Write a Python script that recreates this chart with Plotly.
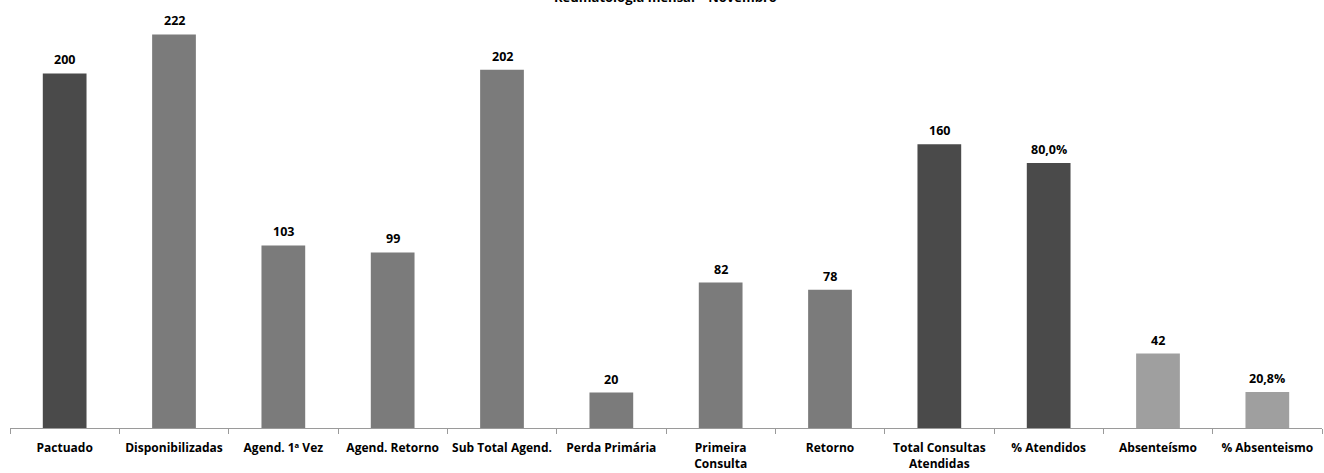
import plotly.graph_objects as go

categories = ["Pactuado", "Disponibilizadas", "Agend. 1ª Vez", "Agend. Retorno",
              "Sub Total Agend.", "Perda Primária", "Primeira<br>Consulta", "Retorno",
              "Total Consultas<br>Atendidas", "% Atendidos", "Absenteísmo", "% Absenteismo"]

count_cats = ["Pactuado", "Disponibilizadas", "Agend. 1ª Vez", "Agend. Retorno",
              "Sub Total Agend.", "Perda Primária", "Primeira<br>Consulta", "Retorno",
              "Total Consultas<br>Atendidas", "Absenteísmo"]
count_values = [200, 222, 103, 99, 202, 20, 82, 78, 160, 42]
count_colors = ["#4a4a4a", "#7b7b7b", "#7b7b7b", "#7b7b7b", "#7b7b7b", "#7b7b7b",
                "#7b7b7b", "#7b7b7b", "#4a4a4a", "#9f9f9f"]

pct_cats = ["% Atendidos", "% Absenteismo"]
pct_values = [80.0, 20.8]
pct_labels = ["80,0%", "20,8%"]
pct_colors = ["#4a4a4a", "#9f9f9f"]

title = "Reumatologia mensal – Novembro"

FONT = "Open Sans, DejaVu Sans, sans-serif"

fig = go.Figure()
fig.add_trace(go.Bar(x=count_cats, y=count_values, marker_color=count_colors,
                     marker_line_width=0, width=0.4, yaxis="y", showlegend=False,
                     hoverinfo="skip"))
fig.add_trace(go.Bar(x=pct_cats, y=pct_values, marker_color=pct_colors,
                     marker_line_width=0, width=0.4, yaxis="y2", showlegend=False,
                     hoverinfo="skip"))

annotations = []
for c, v in zip(count_cats, count_values):
    annotations.append(dict(x=c, y=v, xref="x", yref="y", text=f"<b>{v}</b>",
                            showarrow=False, yanchor="bottom", yshift=3,
                            font=dict(family=FONT, size=12.5, color="#000000")))
for c, v, t in zip(pct_cats, pct_values, pct_labels):
    annotations.append(dict(x=c, y=v, xref="x", yref="y2", text=f"<b>{t}</b>",
                            showarrow=False, yanchor="bottom", yshift=3,
                            font=dict(family=FONT, size=12.5, color="#000000")))
annotations.append(dict(x=0.4995, y=1.0, xref="paper", yref="paper", yshift=-8,
                        text=f"<b>{title}</b>", showarrow=False, yanchor="bottom",
                        font=dict(family=FONT, size=13, color="#000000")))

fig.update_layout(
    width=1324, height=473,
    margin=dict(l=10, r=2, t=0, b=45),
    plot_bgcolor="white", paper_bgcolor="white",
    barmode="overlay",
    annotations=annotations,
    xaxis=dict(categoryorder="array", categoryarray=categories,
               tickmode="array", tickvals=categories, ticktext=[f"<b>{c}</b>" for c in categories],
               showline=True, linecolor="#9a9a9a", linewidth=1,
               ticks="outside", tickson="boundaries", ticklen=5, tickcolor="#9a9a9a",
               ticklabelstandoff=9, automargin=False,
               tickfont=dict(family=FONT, size=12, color="#000000"),
               showgrid=False, zeroline=False),
    yaxis=dict(range=[0, 241.4], visible=False, showgrid=False, zeroline=False),
    yaxis2=dict(range=[11.49, 122.1], overlaying="y", visible=False,
                showgrid=False, zeroline=False),
)

fig.write_html("out.html", config={"displayModeBar": False},
               post_script="document.body.style.margin='0';document.body.style.overflow='hidden';")
